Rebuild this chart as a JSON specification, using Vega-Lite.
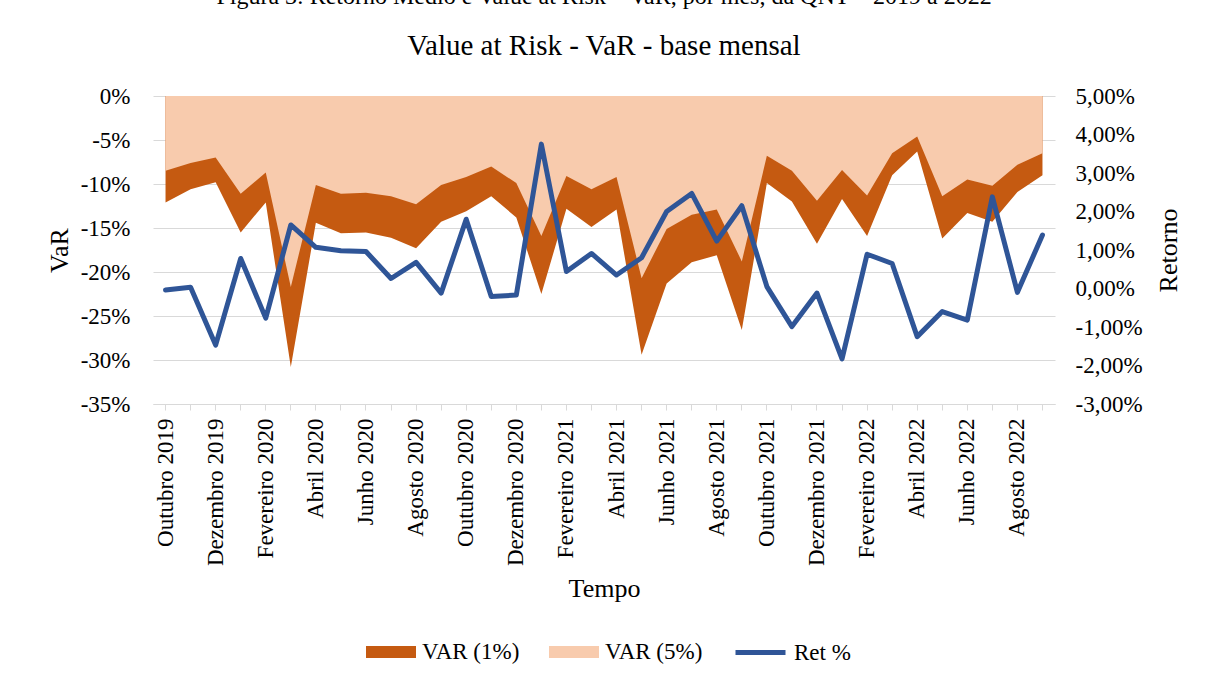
{
  "$schema": "https://vega.github.io/schema/vega-lite/v6.json",
  "width": 902,
  "height": 308,
  "autosize": {"type": "none"},
  "padding": {"left": 153, "top": 96, "right": 150, "bottom": 278},
  "background": "white",
  "config": {
    "font": "Liberation Serif",
    "view": {"stroke": null},
    "axis": {"labelFont": "Liberation Serif", "titleFont": "Liberation Serif", "labelColor": "#000000", "titleColor": "#000000", "labelFontSize": 23, "titleFontSize": 26, "titleFontWeight": "normal"},
    "legend": {"labelFont": "Liberation Serif", "labelColor": "#000000", "labelFontSize": 23, "padding": 0}
  },
  "title": {
    "text": "Figura 3: Retorno Médio e Value at Risk – VaR, por mês, da QNT – 2019 a 2022",
    "subtitle": "Value at Risk - VaR - base mensal",
    "font": "Liberation Serif",
    "fontSize": 24,
    "fontWeight": "normal",
    "color": "#000000",
    "subtitleFont": "Liberation Serif",
    "subtitleFontSize": 29,
    "subtitleColor": "#000000",
    "subtitlePadding": 23,
    "offset": 24,
    "anchor": "middle"
  },
  "data": {
    "values": [
      {"periodo": "2019-10", "var5": -8.5, "var1": -12.1, "ret": -0.04},
      {"periodo": "2019-11", "var5": -7.6, "var1": -10.6, "ret": 0.03},
      {"periodo": "2019-12", "var5": -7.0, "var1": -9.8, "ret": -1.47},
      {"periodo": "2020-01", "var5": -11.1, "var1": -15.5, "ret": 0.78},
      {"periodo": "2020-02", "var5": -8.7, "var1": -12.1, "ret": -0.77},
      {"periodo": "2020-03", "var5": -21.7, "var1": -30.8, "ret": 1.65},
      {"periodo": "2020-04", "var5": -10.1, "var1": -14.4, "ret": 1.07},
      {"periodo": "2020-05", "var5": -11.1, "var1": -15.6, "ret": 0.98},
      {"periodo": "2020-06", "var5": -11.0, "var1": -15.5, "ret": 0.96},
      {"periodo": "2020-07", "var5": -11.4, "var1": -16.1, "ret": 0.26},
      {"periodo": "2020-08", "var5": -12.3, "var1": -17.3, "ret": 0.68},
      {"periodo": "2020-09", "var5": -10.1, "var1": -14.3, "ret": -0.12},
      {"periodo": "2020-10", "var5": -9.2, "var1": -13.1, "ret": 1.80},
      {"periodo": "2020-11", "var5": -8.0, "var1": -11.4, "ret": -0.21},
      {"periodo": "2020-12", "var5": -9.9, "var1": -13.8, "ret": -0.17},
      {"periodo": "2021-01", "var5": -15.9, "var1": -22.5, "ret": 3.75},
      {"periodo": "2021-02", "var5": -9.1, "var1": -12.8, "ret": 0.44},
      {"periodo": "2021-03", "var5": -10.6, "var1": -14.9, "ret": 0.91},
      {"periodo": "2021-04", "var5": -9.2, "var1": -12.9, "ret": 0.35},
      {"periodo": "2021-05", "var5": -20.7, "var1": -29.4, "ret": 0.80},
      {"periodo": "2021-06", "var5": -15.1, "var1": -21.3, "ret": 2.00},
      {"periodo": "2021-07", "var5": -13.5, "var1": -18.9, "ret": 2.47},
      {"periodo": "2021-08", "var5": -12.9, "var1": -18.1, "ret": 1.23},
      {"periodo": "2021-09", "var5": -18.8, "var1": -26.6, "ret": 2.15},
      {"periodo": "2021-10", "var5": -6.8, "var1": -9.9, "ret": 0.05},
      {"periodo": "2021-11", "var5": -8.5, "var1": -12.0, "ret": -0.99},
      {"periodo": "2021-12", "var5": -11.9, "var1": -16.8, "ret": -0.12},
      {"periodo": "2022-01", "var5": -8.4, "var1": -11.7, "ret": -1.83},
      {"periodo": "2022-02", "var5": -11.3, "var1": -15.9, "ret": 0.89},
      {"periodo": "2022-03", "var5": -6.5, "var1": -9.0, "ret": 0.65},
      {"periodo": "2022-04", "var5": -4.6, "var1": -6.3, "ret": -1.25},
      {"periodo": "2022-05", "var5": -11.4, "var1": -16.2, "ret": -0.60},
      {"periodo": "2022-06", "var5": -9.5, "var1": -13.3, "ret": -0.82},
      {"periodo": "2022-07", "var5": -10.2, "var1": -14.3, "ret": 2.38},
      {"periodo": "2022-08", "var5": -7.8, "var1": -10.9, "ret": -0.10},
      {"periodo": "2022-09", "var5": -6.5, "var1": -9.0, "ret": 1.39}
    ]
  },
  "layer": [
    {
      "layer": [
        {
          "mark": {"type": "area"},
          "encoding": {
            "x": {
              "field": "periodo", "type": "ordinal", "bandPosition": 0.5,
              "scale": {"type": "band", "paddingInner": 0, "paddingOuter": 0},
              "axis": {
                "orient": "bottom", "title": "Tempo", "titlePadding": 10, "labelAngle": -90,
                "labelPadding": 8, "tickSize": 6, "tickColor": "#D9D9D9", "domainColor": "#D9D9D9", "grid": false,
                "labelOverlap": false,
                "labelExpr": "toNumber(slice(datum.label, 5, 7)) == 10 ? 'Outubro ' + slice(datum.label, 0, 4) : toNumber(slice(datum.label, 5, 7)) == 12 ? 'Dezembro ' + slice(datum.label, 0, 4) : toNumber(slice(datum.label, 5, 7)) == 2 ? 'Fevereiro ' + slice(datum.label, 0, 4) : toNumber(slice(datum.label, 5, 7)) == 4 ? 'Abril ' + slice(datum.label, 0, 4) : toNumber(slice(datum.label, 5, 7)) == 6 ? 'Junho ' + slice(datum.label, 0, 4) : toNumber(slice(datum.label, 5, 7)) == 8 ? 'Agosto ' + slice(datum.label, 0, 4) : ''"
              }
            },
            "y": {
              "field": "var1", "type": "quantitative",
              "scale": {"domain": [-35, 0], "nice": false, "zero": false},
              "axis": {
                "orient": "left", "title": "VaR", "values": [-35, -30, -25, -20, -15, -10, -5, 0],
                "labelExpr": "datum.value + '%'", "grid": true, "gridColor": "#D9D9D9", "gridWidth": 1,
                "domain": false, "ticks": false, "labelPadding": 23, "titlePadding": 8
              }
            },
            "y2": {"datum": 0},
            "fill": {
              "datum": "VAR (1%)",
              "scale": {"domain": ["VAR (1%)", "VAR (5%)"], "range": ["#C55A11", "#F8CBAD"]},
              "legend": {
                "orient": "none", "legendX": 213, "legendY": 531, "direction": "horizontal", "title": null,
                "symbolType": "M-1,-0.24H1V0.24H-1Z", "symbolSize": 2500, "symbolStrokeWidth": 0,
                "symbolOpacity": 1, "labelOffset": 6, "columnPadding": 29
              }
            }
          }
        },
        {
          "mark": {"type": "area"},
          "encoding": {
            "x": {
              "field": "periodo", "type": "ordinal", "bandPosition": 0.5,
              "axis": {
                "orient": "bottom", "title": "Tempo", "titlePadding": 10, "labelAngle": -90,
                "labelPadding": 8, "tickSize": 6, "tickColor": "#D9D9D9", "domainColor": "#D9D9D9", "grid": false,
                "labelOverlap": false,
                "labelExpr": "toNumber(slice(datum.label, 5, 7)) == 10 ? 'Outubro ' + slice(datum.label, 0, 4) : toNumber(slice(datum.label, 5, 7)) == 12 ? 'Dezembro ' + slice(datum.label, 0, 4) : toNumber(slice(datum.label, 5, 7)) == 2 ? 'Fevereiro ' + slice(datum.label, 0, 4) : toNumber(slice(datum.label, 5, 7)) == 4 ? 'Abril ' + slice(datum.label, 0, 4) : toNumber(slice(datum.label, 5, 7)) == 6 ? 'Junho ' + slice(datum.label, 0, 4) : toNumber(slice(datum.label, 5, 7)) == 8 ? 'Agosto ' + slice(datum.label, 0, 4) : ''"
              }
            },
            "y": {"field": "var5", "type": "quantitative"},
            "y2": {"datum": 0},
            "fill": {"datum": "VAR (5%)"}
          }
        }
      ]
    },
    {
      "mark": {"type": "line", "strokeWidth": 5, "strokeCap": "round", "strokeJoin": "round"},
      "encoding": {
        "x": {
          "field": "periodo", "type": "ordinal", "bandPosition": 0.5,
          "axis": {
            "orient": "bottom", "title": "Tempo", "titlePadding": 10, "labelAngle": -90,
            "labelPadding": 8, "tickSize": 6, "tickColor": "#D9D9D9", "domainColor": "#D9D9D9", "grid": false,
            "labelOverlap": false,
            "labelExpr": "toNumber(slice(datum.label, 5, 7)) == 10 ? 'Outubro ' + slice(datum.label, 0, 4) : toNumber(slice(datum.label, 5, 7)) == 12 ? 'Dezembro ' + slice(datum.label, 0, 4) : toNumber(slice(datum.label, 5, 7)) == 2 ? 'Fevereiro ' + slice(datum.label, 0, 4) : toNumber(slice(datum.label, 5, 7)) == 4 ? 'Abril ' + slice(datum.label, 0, 4) : toNumber(slice(datum.label, 5, 7)) == 6 ? 'Junho ' + slice(datum.label, 0, 4) : toNumber(slice(datum.label, 5, 7)) == 8 ? 'Agosto ' + slice(datum.label, 0, 4) : ''"
          }
        },
        "y": {
          "field": "ret", "type": "quantitative",
          "scale": {"domain": [-3, 5], "nice": false, "zero": false},
          "axis": {
            "orient": "right", "title": "Retorno", "values": [-3, -2, -1, 0, 1, 2, 3, 4, 5],
            "labelExpr": "datum.value + ',00%'",
            "grid": false, "domain": false, "ticks": false, "labelPadding": 20,
            "titleAngle": 270, "titlePadding": 39
          }
        },
        "stroke": {
          "datum": "Ret %",
          "scale": {"domain": ["Ret %"], "range": ["#2F5597"]},
          "legend": {
            "orient": "none", "legendX": 580, "legendY": 529, "direction": "horizontal", "title": null,
            "symbolType": "stroke", "symbolSize": 2500, "symbolStrokeWidth": 5, "labelOffset": 6
          }
        }
      }
    }
  ],
  "resolve": {"scale": {"y": "independent"}}
}
